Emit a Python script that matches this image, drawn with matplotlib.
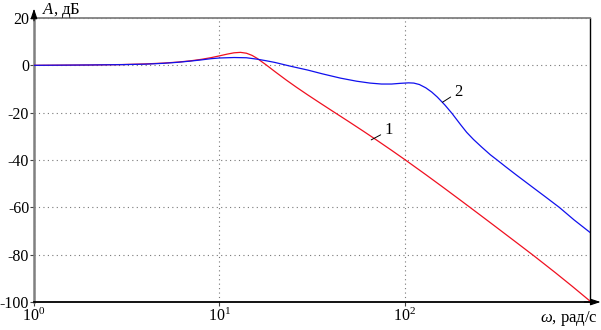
import matplotlib
matplotlib.use("Agg")
import matplotlib.pyplot as plt

# readings (omega in rad/s, A in dB)
w1 = [1, 2, 3, 4, 5, 6, 7, 8, 9, 10, 11, 12, 13, 14, 15, 16, 18, 20, 23, 26,
      30, 35, 40, 50, 60, 70, 85, 100, 130, 160, 200, 250, 300, 400, 500, 650,
      800, 1000]
a1 = [0.0, 0.15, 0.33, 0.6, 0.95, 1.38, 1.91, 2.53, 3.23, 3.99, 4.72, 5.29,
      5.48, 5.12, 4.22, 2.94, 0.04, -2.71, -6.25, -9.2, -12.5, -15.95, -18.9,
      -23.81, -27.88, -31.39, -35.91, -39.78, -46.18, -51.35, -56.99, -62.69,
      -67.37, -74.8, -80.59, -87.6, -93.3, -99.6]

w2 = [1, 2, 3, 4, 5, 6, 7, 8, 9, 10, 12, 14, 16, 18, 20, 24, 27, 30, 36, 45,
      55, 65, 75, 85, 95, 105, 112, 120, 130, 140, 150, 165, 180, 200, 216,
      235, 260, 290, 313, 350, 400, 490, 580, 685, 820, 1000]
a2 = [0.0, 0.15, 0.3, 0.5, 0.85, 1.3, 1.8, 2.3, 2.8, 3.1, 3.3, 3.2, 2.6, 1.9,
      1.2, -0.3, -1.2, -2.0, -3.6, -5.4, -6.7, -7.5, -7.9, -7.9, -7.6, -7.4,
      -7.5, -8.1, -9.5, -11.3, -13.4, -16.8, -20.3, -25.0, -28.3, -31.3,
      -34.5, -37.8, -39.8, -42.8, -46.3, -51.5, -55.8, -60.1, -65.3, -70.6]

yticks = [20, 0, -20, -40, -60, -80, -100]
xticks = [1, 10, 100]
xticklabels = ["$10^{0}$", "$10^{1}$", "$10^{2}$"]

plt.rcParams["font.family"] = ["Liberation Serif", "DejaVu Serif"]
plt.rcParams["mathtext.fontset"] = "custom"
plt.rcParams["mathtext.rm"] = "Liberation Serif"
plt.rcParams["mathtext.it"] = "Liberation Serif:italic"
plt.rcParams["axes.unicode_minus"] = False

FS = 12

fig = plt.figure(figsize=(6.01, 3.30), dpi=100)
ax = fig.add_axes([34 / 601, 28 / 330, 556 / 601, 284 / 330])

ax.plot(w1, a1, color="#f01020", lw=0.9, zorder=3)
ax.plot(w2, a2, color="#1010ee", lw=0.9, zorder=3)

ax.set_xscale("log")
ax.set_xlim(1, 1000)
ax.set_ylim(-100, 20)
ax.set_xticks(xticks)
ax.set_xticklabels(xticklabels)
ax.set_yticks(yticks)
ax.set_yticklabels([str(v) for v in yticks])
ax.xaxis.set_minor_locator(matplotlib.ticker.NullLocator())
ax.tick_params(axis="both", direction="out", length=3, width=0.8,
               labelsize=11.5, pad=1, color="#444")
ax.tick_params(axis="y", pad=0.5)

ax.grid(True, color="#777", ls=(0, (1, 3)), lw=0.8)

for side in ("left", "top"):
    ax.spines[side].set_color("#808080")
ax.spines["left"].set_linewidth(1.8)
ax.spines["top"].set_linewidth(1.3)
ax.spines["right"].set_color("black")
ax.spines["right"].set_linewidth(1.0)
ax.spines["bottom"].set_color("black")
ax.spines["bottom"].set_linewidth(1.3)

# axis arrows
ax.annotate("", xy=(0, 1.033), xytext=(0, 0.99), xycoords="axes fraction",
            arrowprops=dict(arrowstyle="-|>,head_length=0.6,head_width=0.2",
                            color="black", lw=0.8, shrinkA=0, shrinkB=0),
            annotation_clip=False)
ax.annotate("", xy=(1.019, 0), xytext=(0.99, 0), xycoords="axes fraction",
            arrowprops=dict(arrowstyle="-|>,head_length=0.6,head_width=0.2",
                            color="black", lw=0.8, shrinkA=0, shrinkB=0),
            annotation_clip=False)

# curve labels with leader lines
ax.annotate("1", xy=(66, -31.5), xytext=(78, -27.5), fontsize=FS,
            va="center", ha="left",
            arrowprops=dict(arrowstyle="-", color="black", lw=0.7,
                            shrinkA=1, shrinkB=0))
ax.annotate("2", xy=(160, -15.6), xytext=(186, -11.2), fontsize=FS,
            va="center", ha="left",
            arrowprops=dict(arrowstyle="-", color="black", lw=0.7,
                            shrinkA=1, shrinkB=0))

fig.text(42 / 601, 1 - 10 / 330, "$A$, дБ", fontsize=FS, va="center", ha="left")
fig.text(598 / 601, 1 - 319 / 330, r"$\omega$, рад/с", fontsize=FS,
         va="center", ha="right")

fig.savefig("out.png", dpi=100)
